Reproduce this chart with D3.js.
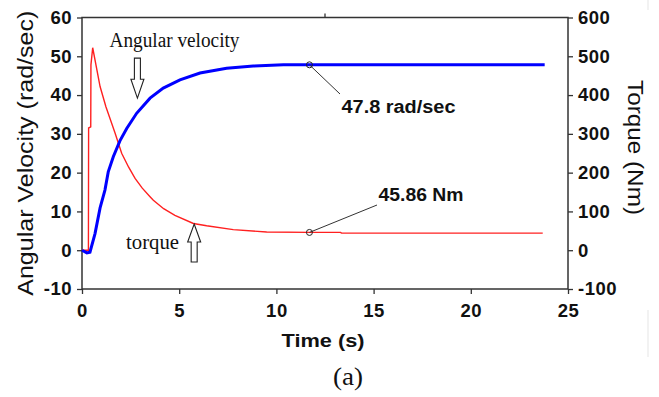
<!DOCTYPE html>
<html>
<head>
<meta charset="utf-8">
<script src="https://cdn.jsdelivr.net/npm/d3@7"></script>
<style>
  body { margin: 0; background: #fff; }
  svg { display: block; }
</style>
</head>
<body>
<div id="chart"></div>
<script>
// Angular velocity (rad/sec)
var speedTime = [0, 0.25, 0.41, 0.67, 0.93, 1.18, 1.35, 1.61, 1.95, 2.30, 2.81, 3.50, 4.18, 5.04, 6.07, 7.44, 8.81, 10.36, 11.7, 23.8];
var speedValue = [0, -0.7, -0.5, 4.3, 10.9, 15.5, 20.2, 24.1, 28.2, 31.4, 35.3, 39.2, 41.8, 43.9, 45.7, 46.9, 47.5, 47.8, 47.8, 47.8];

// Torque (Nm)
var torqueTime = [0, 0.33, 0.34, 0.45, 0.46, 0.55, 0.93, 1.23, 1.70, 2.04, 2.40, 2.73, 3.10, 3.50, 3.67, 4.20, 4.78, 5.73, 6.41, 7.78, 9.5, 11.7, 13.3, 13.35, 23.7];
var torqueValue = [0, 0, 315, 318, 478, 522, 422, 370, 302, 250, 214, 185, 160, 138, 129, 107, 90, 69, 63, 53, 47, 46, 46, 44, 44];

var xTicks = [0, 5, 10, 15, 20, 25];
var leftTicks = [-10, 0, 10, 20, 30, 40, 50, 60];
var rightTicks = [-100, 0, 100, 200, 300, 400, 500, 600];

var markTime = 11.7;
var speedFinal = 47.8;
var torqueFinal = 45.86;

var width = 659, height = 397;
var margin = {left: 82, right: 91, top: 17.5, bottom: 108};

var svg = d3.select("#chart").append("svg")
    .attr("width", width)
    .attr("height", height);

var x = d3.scaleLinear().domain([0, 25]).range([margin.left, width - margin.right]);
var yL = d3.scaleLinear().domain([-10, 60]).range([height - margin.bottom, margin.top]);
var yR = d3.scaleLinear().domain([-100, 600]).range([height - margin.bottom, margin.top]);

var tickFont = "'Liberation Sans', Arial, sans-serif";
var plain = function(d) { return String(d); }; // keep the hyphen minus

// axes
var gx = svg.append("g")
    .attr("transform", "translate(0," + yL.range()[0] + ")")
    .call(d3.axisBottom(x).tickValues(xTicks).tickFormat(plain).tickSize(5).tickSizeOuter(0).tickPadding(10));
var gl = svg.append("g")
    .attr("transform", "translate(" + x.range()[0] + ",0)")
    .call(d3.axisLeft(yL).tickValues(leftTicks).tickFormat(plain).tickSize(5).tickSizeOuter(0).tickPadding(5));
var gr = svg.append("g")
    .attr("transform", "translate(" + x.range()[1] + ",0)")
    .call(d3.axisRight(yR).tickValues(rightTicks).tickFormat(plain).tickSize(5).tickSizeOuter(0).tickPadding(5));

[gx, gl, gr].forEach(function(g) {
  g.select(".domain").remove();
  g.selectAll(".tick line").attr("stroke", "#333").attr("stroke-width", 1.3);
  g.selectAll(".tick text")
    .attr("fill", "#111")
    .style("font-family", tickFont)
    .style("font-weight", "bold")
    .style("font-size", "18.5px")
    .style("letter-spacing", "0.5px");
});

// frame
svg.append("rect")
    .attr("x", x.range()[0])
    .attr("y", yL.range()[1])
    .attr("width", x.range()[1] - x.range()[0])
    .attr("height", yL.range()[0] - yL.range()[1])
    .attr("fill", "none")
    .attr("stroke", "#333")
    .attr("stroke-width", 1.5);

// stray tick on top edge
svg.append("line")
    .attr("x1", x(12.5)).attr("x2", x(12.5))
    .attr("y1", yL.range()[1] - 4).attr("y2", yL.range()[1])
    .attr("stroke", "#333").attr("stroke-width", 1.3);

// faint crop edge on the right
svg.append("line").attr("x1", 648).attr("x2", 648).attr("y1", 0).attr("y2", 10)
    .attr("stroke", "#eee").attr("stroke-width", 1.5);
svg.append("line").attr("x1", 648).attr("x2", 648).attr("y1", 310).attr("y2", 357)
    .attr("stroke", "#eee").attr("stroke-width", 1.5);

// curves
var torqueLine = d3.line()
    .x(function(d, i) { return x(torqueTime[i]); })
    .y(function(d) { return yR(d); });
var speedLine = d3.line()
    .x(function(d, i) { return x(speedTime[i]); })
    .y(function(d) { return yL(d); });

svg.append("path")
    .datum(torqueValue)
    .attr("d", torqueLine)
    .attr("fill", "none")
    .attr("stroke", "#ff2020")
    .attr("stroke-width", 1.4);

svg.append("path")
    .datum(speedValue)
    .attr("d", speedLine)
    .attr("fill", "none")
    .attr("stroke", "#0000ff")
    .attr("stroke-width", 3);

// leader lines + markers
function marker(px, py, tx, ty) {
  svg.append("line")
      .attr("x1", px).attr("y1", py).attr("x2", tx).attr("y2", ty)
      .attr("stroke", "#333").attr("stroke-width", 1);
  svg.append("circle")
      .attr("cx", px).attr("cy", py).attr("r", 3)
      .attr("fill", "none").attr("stroke", "#222").attr("stroke-width", 1);
}
marker(x(markTime), yL(speedFinal), 340, 94);
marker(x(markTime), yR(torqueFinal), 377, 205);

var boldText = function(txt, tx, ty, len) {
  svg.append("text")
      .attr("x", tx).attr("y", ty)
      .attr("textLength", len).attr("lengthAdjust", "spacingAndGlyphs")
      .style("font-family", tickFont).style("font-weight", "bold").style("font-size", "18px")
      .attr("fill", "#111")
      .text(txt);
};
boldText(speedFinal + " rad/sec", 341.5, 112.5, 114);
boldText(torqueFinal + " Nm", 378.5, 200.5, 85);

// serif annotations
var serif = "'Liberation Serif', 'Times New Roman', serif";
var serifText = function(txt, tx, ty, size, len) {
  svg.append("text")
      .attr("x", tx).attr("y", ty)
      .attr("textLength", len).attr("lengthAdjust", "spacingAndGlyphs")
      .style("font-family", serif).style("font-size", size + "px")
      .attr("fill", "#111")
      .text(txt);
};
serifText("Angular velocity", 109.5, 46.5, 20, 130);
serifText("torque", 126, 249, 20, 53);
serifText("(a)", 333, 385, 26, 30);

// hollow arrows, tip placed in data units
function arrow(t, v, dir) {
  var tx = x(t), ty = yL(v);
  var s = dir; // -1 = points down, 1 = points up
  var pts = [
    [0, 0], [6.5, 18 * s], [3, 18 * s], [3, 38 * s],
    [-3, 38 * s], [-3, 18 * s], [-6.5, 18 * s]
  ];
  if (dir < 0) pts = pts.map(function(p) { return [p[0], p[1] * 40 / 38]; });
  svg.append("path")
      .attr("d", d3.line()(pts.map(function(p) { return [tx + p[0], ty + p[1]]; })) + "Z")
      .attr("fill", "#fff")
      .attr("stroke", "#222")
      .attr("stroke-width", 1.1);
}
arrow(2.85, 39.2, -1);
arrow(5.77, 6.75, 1);

// axis titles
var titleFont = "'Liberation Sans', Arial, sans-serif";
svg.append("text")
    .attr("transform", "translate(33," + (yL.range()[0] + yL.range()[1]) / 2 + ") rotate(-90)")
    .attr("text-anchor", "middle")
    .attr("textLength", 285).attr("lengthAdjust", "spacingAndGlyphs")
    .style("font-family", titleFont).style("font-size", "22px")
    .attr("fill", "#111")
    .text("Angular Velocity (rad/sec)");

svg.append("text")
    .attr("transform", "translate(628,147.5) rotate(90)")
    .attr("text-anchor", "middle")
    .attr("textLength", 135).attr("lengthAdjust", "spacingAndGlyphs")
    .style("font-family", titleFont).style("font-size", "22px")
    .attr("fill", "#111")
    .text("Torque (Nm)");

svg.append("text")
    .attr("x", 281.5).attr("y", 346.5)
    .attr("textLength", 83).attr("lengthAdjust", "spacingAndGlyphs")
    .style("font-family", titleFont).style("font-weight", "bold").style("font-size", "19px")
    .attr("fill", "#111")
    .text("Time (s)");
</script>
</body>
</html>
